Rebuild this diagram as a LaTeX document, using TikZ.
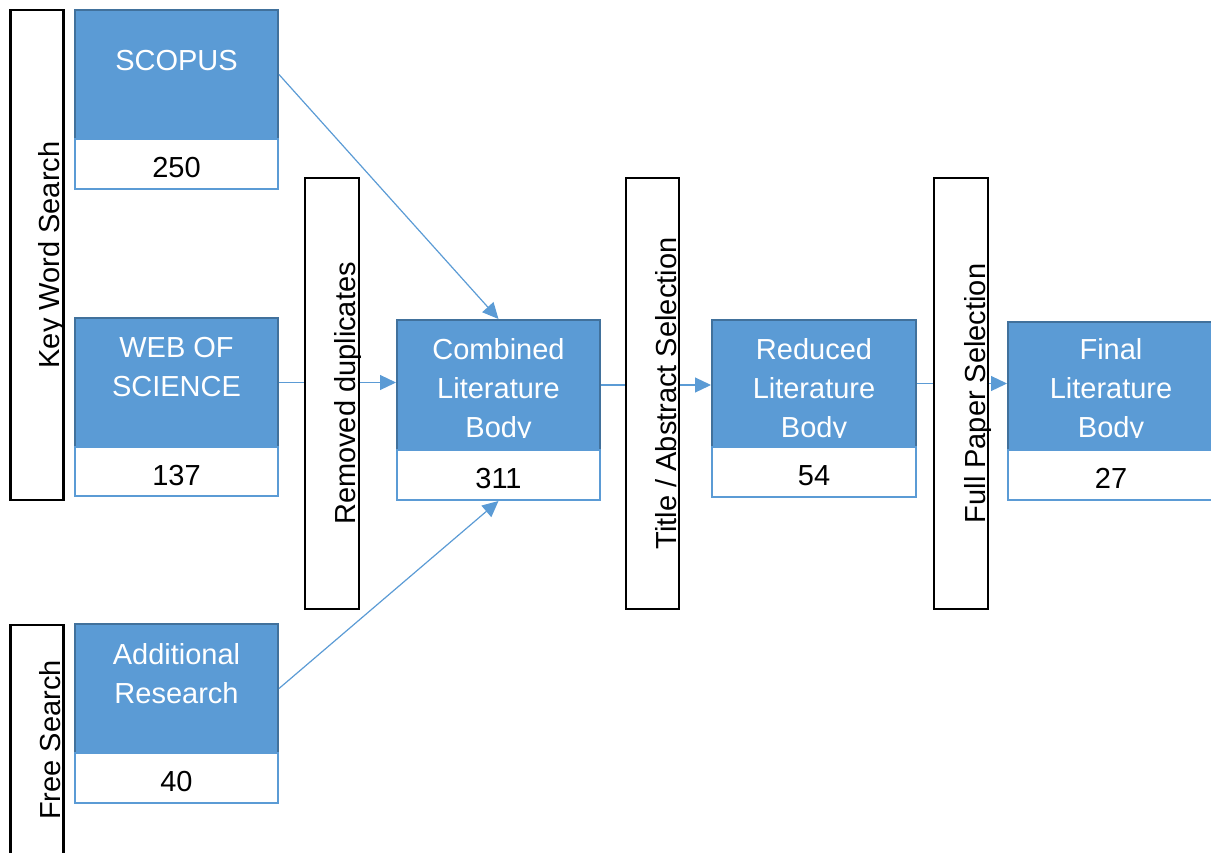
\documentclass[tikz,border=0pt]{standalone}
\usepackage{fontspec}
\setmainfont{Liberation Sans}
\usetikzlibrary{arrows.meta}
\definecolor{obl}{HTML}{5B9BD5}
\definecolor{obd}{HTML}{41719C}
\begin{document}
\begin{tikzpicture}[x=1pt,y=-1pt,
  bluebox/.style={rectangle, draw=obd, fill=obl, line width=2pt, inner sep=0pt, minimum width=203pt},
  numbox/.style={rectangle, draw=obl, fill=white, line width=2pt, inner sep=0pt, minimum width=203pt,
    minimum height=50pt, text height=27pt, text depth=0pt, font=\fontsize{29}{29}\selectfont},
  vbox/.style={rectangle, draw=black, fill=white, line width=2.5pt, inner sep=0pt, minimum width=53pt},
  btext/.style={text=white, align=center, anchor=base, inner sep=0pt, font=\fontsize{29}{39}\selectfont},
  vtext/.style={rotate=90, anchor=base, inner sep=0pt, font=\fontsize{29}{35}\selectfont},
  arr/.style={draw=obl, line width=1.2pt, -{Triangle[length=16pt,width=15pt]}}]
\useasboundingbox (0,0) rectangle (1211,852);

% left column
\node[bluebox, minimum height=129pt] (scopus) at (176.5,74.5) {};
\node[numbox] (n250) at (176.5,164) {250};
\node[bluebox, minimum height=129pt] (wos) at (176.5,382.5) {};
\node[numbox, minimum height=49pt] (n137) at (176.5,471.5) {137};
\node[bluebox, minimum height=129pt] (add) at (176.5,688.5) {};
\node[numbox] (n40) at (176.5,778) {40};

% combined / reduced / final
\node[bluebox, minimum height=130pt] (comb) at (498.5,385) {};
\node[numbox] (n311) at (498.5,475) {311};
\node[bluebox, minimum height=127pt, minimum width=204pt] (red) at (814,383.5) {};
\node[numbox, minimum width=204pt] (n54) at (814,472) {54};
\node[bluebox, minimum height=128pt, minimum width=206pt] (fin) at (1111,386) {};
\node[numbox, minimum width=206pt] (n27) at (1111,475) {27};

% texts in blue boxes (base = baseline of last line)
\node[btext] (scopusT) at (176.5,70) {SCOPUS};
\node[btext] (wosT) at (176.5,396) {WEB OF\\SCIENCE};
\node[btext] (addT) at (176.5,703) {Additional\\Research};
\begin{scope}
\clip (397,320) rectangle (600,437);
\node[btext] (combT) at (498.5,437) {Combined\\Literature\\Body};
\end{scope}
\begin{scope}
\clip (712,320) rectangle (916,437);
\node[btext] (redT) at (814,437) {Reduced\\Literature\\Body};
\end{scope}
\begin{scope}
\clip (1008,320) rectangle (1214,437);
\node[btext] (finT) at (1111,437) {Final\\Literature\\Body};
\end{scope}

% connectors
\draw[arr] (scopus.east) -- (comb.north);
\draw[arr] (add.east) -- (n311.south);
\draw[arr] (wos.east) -- (wos.east -| comb.west);
\draw[arr] (comb.east) -- (comb.east -| red.west);
\draw[arr] (red.east) -- (red.east -| fin.west);

% vertical boxes
\node[vbox, minimum height=490pt] (kw) at (37,255) {};
\node[vbox, minimum height=232pt] (fs) at (37,741) {};
\node[vbox, minimum height=431pt, minimum width=54pt] (rd) at (332,393.5) {};
\node[vbox, minimum height=431pt] (ta) at (652.5,393.5) {};
\node[vbox, minimum height=431pt, minimum width=54pt] (fp) at (961,393.5) {};

\node[vtext] (kwT) at (59,255) {Key Word Search};
\node[vtext] (fsT) at (60,740) {Free Search};
\node[vtext] (rdT) at (355,393.5) {Removed duplicates};
\node[vtext] (taT) at (676,393.5) {Title / Abstract Selection};
\node[vtext] (fpT) at (985,393.5) {Full Paper Selection};
\end{tikzpicture}
\end{document}
